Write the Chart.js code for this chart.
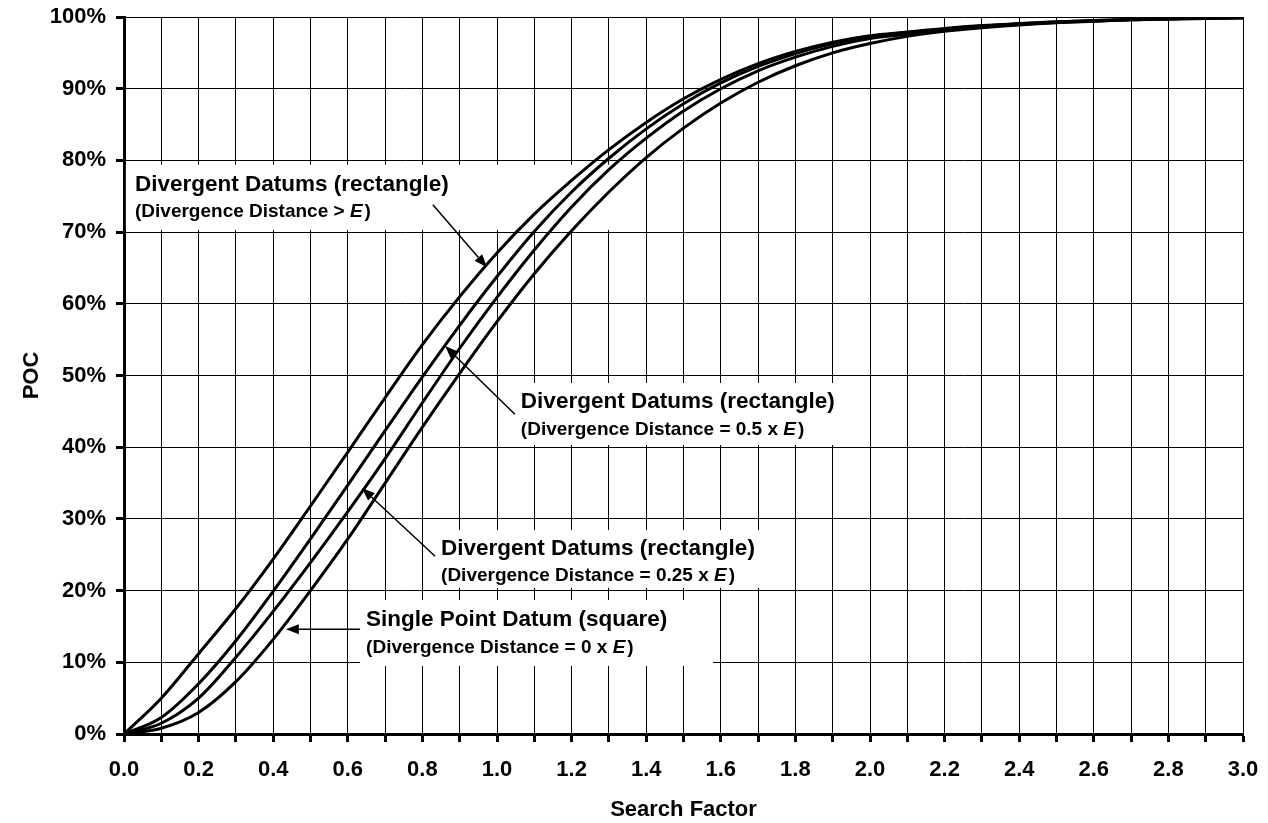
<!DOCTYPE html>
<html>
<head>
<meta charset="utf-8">
<title>POC vs Search Factor</title>
<script src="https://cdn.jsdelivr.net/npm/chart.js@4.4.0/dist/chart.umd.min.js"></script>
<style>
  body { margin: 0; background: #fff; }
</style>
</head>
<body>
<canvas id="poc" width="1268" height="823"></canvas>
<script>
// x values (search factor)
var searchFactor = [0.0, 0.1, 0.2, 0.3, 0.4, 0.5, 0.6, 0.7, 0.8, 0.9, 1.0,
                    1.1, 1.2, 1.3, 1.4, 1.5, 1.6, 1.7, 1.8, 1.9, 2.0,
                    2.1, 2.2, 2.3, 2.4, 2.5, 2.6, 2.7, 2.8, 2.9, 3.0];

// POC in percent
var pocDivergentFar = [0, 5.0, 11.2, 17.5, 24.4, 31.8, 39.3, 46.9, 54.3, 61.0, 67.1,
                       72.5, 77.2, 81.5, 85.3, 88.6, 91.3, 93.5, 95.2, 96.5, 97.4,
                       97.9, 98.4, 98.8, 99.1, 99.35, 99.5, 99.65, 99.75, 99.85, 99.9];
var pocDivergentHalf = [0, 2.3, 7.0, 13.0, 19.9, 27.2, 34.7, 42.3, 49.8, 57.0, 63.8,
                        70.1, 75.6, 80.3, 84.4, 87.9, 90.8, 93.1, 94.9, 96.3, 97.3,
                        97.8, 98.3, 98.75, 99.05, 99.3, 99.5, 99.65, 99.75, 99.85, 99.9];
var pocDivergentQuarter = [0, 1.5, 5.0, 10.7, 17.1, 23.9, 31.0, 38.4, 46.2, 53.8, 60.9,
                           67.5, 73.5, 78.7, 83.1, 86.9, 90.0, 92.5, 94.4, 95.9, 97.0,
                           97.6, 98.2, 98.65, 99.0, 99.25, 99.45, 99.6, 99.75, 99.8, 99.9];
var pocSinglePoint = [0, 0.8, 3.0, 7.3, 13.2, 20.0, 27.2, 35.0, 42.8, 50.3, 57.5,
                      64.2, 70.2, 75.6, 80.4, 84.5, 88.0, 90.9, 93.2, 95.0, 96.3,
                      97.3, 98.0, 98.5, 98.9, 99.2, 99.4, 99.6, 99.7, 99.8, 99.9];

// labelled ticks on the x axis (the 0.1 ticks in between get no text)
var xTickLabels = ['0.0', '0.2', '0.4', '0.6', '0.8', '1.0', '1.2', '1.4', '1.6',
                   '1.8', '2.0', '2.2', '2.4', '2.6', '2.8', '3.0'];

// callout texts
var noteTitles = ['Divergent Datums (rectangle)', 'Divergent Datums (rectangle)',
                  'Divergent Datums (rectangle)', 'Single Point Datum (square)'];
var noteSubs = ['(Divergence Distance > ', '(Divergence Distance = 0.5 x ',
                '(Divergence Distance = 0.25 x ', '(Divergence Distance = 0 x '];

// callout placement, in axis units (x = search factor, y = %)
var noteLayout = [
    {x0: 0.005, x1: 1.343, y0: 79.4, y1: 70.3, tx: 0.0295, ty: 75.7, sy: 72.1},
    {x0: 1.040, x1: 1.946, y0: 48.95, y1: 40.3, tx: 1.064, ty: 45.5, sy: 41.7},
    {x0: 0.820, x1: 1.718, y0: 28.45, y1: 20.4, tx: 0.850, ty: 25.0, sy: 21.3},
    {x0: 0.633, x1: 1.579, y0: 18.7, y1: 9.5, tx: 0.649, ty: 15.1, sy: 11.3}
];
var arrowLayout = [
    {x0: 0.828, y0: 73.8, x1: 0.973, y1: 65.1},
    {x0: 1.048, y0: 44.6, x1: 0.861, y1: 54.1},
    {x0: 0.834, y0: 24.8, x1: 0.638, y1: 34.3},
    {x0: 0.633, y0: 14.6, x1: 0.434, y1: 14.6}
];

var FONT = '"Liberation Sans", Arial, Helvetica, sans-serif';
Chart.defaults.font.family = FONT;
Chart.defaults.color = '#000';

function makeSeries(ys) {
    var pts = [];
    for (let i = 0; i < searchFactor.length; i++) {
        pts.push({x: searchFactor[i], y: ys[i]});
    }
    return pts;
}

function curve(ys) {
    return {
        data: makeSeries(ys),
        borderColor: '#000',
        borderWidth: 3,
        pointRadius: 0,
        cubicInterpolationMode: 'monotone',
        fill: false
    };
}

function drawArrow(ctx, x0, y0, x1, y1) {
    var ang = Math.atan2(y1 - y0, x1 - x0);
    var len = 13, half = 5;
    var bx = x1 - len * Math.cos(ang), by = y1 - len * Math.sin(ang);
    ctx.beginPath();
    ctx.moveTo(x0, y0);
    ctx.lineTo(bx, by);
    ctx.stroke();
    ctx.beginPath();
    ctx.moveTo(x1, y1);
    ctx.lineTo(bx + half * Math.sin(ang), by - half * Math.cos(ang));
    ctx.lineTo(bx - half * Math.sin(ang), by + half * Math.cos(ang));
    ctx.closePath();
    ctx.fill();
}

var calloutPlugin = {
    id: 'callouts',
    beforeDatasetsDraw: function(chart) {
        var ctx = chart.ctx, xs = chart.scales.x, ys = chart.scales.y;
        ctx.save();
        ctx.fillStyle = '#fff';
        noteLayout.forEach(function(b) {
            var l = xs.getPixelForValue(b.x0), r = xs.getPixelForValue(b.x1);
            var t = ys.getPixelForValue(b.y0), bt = ys.getPixelForValue(b.y1);
            ctx.fillRect(l, t, r - l, bt - t);
        });
        ctx.restore();
    },
    afterDatasetsDraw: function(chart) {
        var ctx = chart.ctx, xs = chart.scales.x, ys = chart.scales.y;
        ctx.save();
        ctx.fillStyle = '#000';
        ctx.strokeStyle = '#000';
        ctx.lineWidth = 1.5;
        arrowLayout.forEach(function(a) {
            drawArrow(ctx, xs.getPixelForValue(a.x0), ys.getPixelForValue(a.y0),
                      xs.getPixelForValue(a.x1), ys.getPixelForValue(a.y1));
        });

        ctx.textBaseline = 'alphabetic';
        ctx.textAlign = 'left';
        for (let i = 0; i < noteLayout.length; i++) {
            var n = noteLayout[i];
            var px = xs.getPixelForValue(n.tx);
            ctx.font = 'bold 22.5px ' + FONT;
            ctx.fillText(noteTitles[i], px, ys.getPixelForValue(n.ty));

            // subtitle, with an italic E
            var sy = ys.getPixelForValue(n.sy);
            ctx.font = 'bold 19px ' + FONT;
            ctx.fillText(noteSubs[i], px, sy);
            var w = ctx.measureText(noteSubs[i]).width;
            ctx.font = 'italic bold 19px ' + FONT;
            ctx.fillText('E', px + w, sy);
            w += ctx.measureText('E').width + 2;
            ctx.font = 'bold 19px ' + FONT;
            ctx.fillText(')', px + w, sy);
        }
        ctx.restore();
    }
};

var tickFont = {size: 22, weight: 'bold'};

new Chart(document.getElementById('poc'), {
    type: 'line',
    data: {
        datasets: [
            curve(pocDivergentFar),
            curve(pocDivergentHalf),
            curve(pocDivergentQuarter),
            curve(pocSinglePoint)
        ]
    },
    options: {
        responsive: false,
        animation: false,
        devicePixelRatio: 1,
        layout: {padding: {left: 0, top: 17, right: 25, bottom: 0}},
        plugins: {
            legend: {display: false},
            tooltip: {enabled: false}
        },
        scales: {
            x: {
                type: 'linear',
                min: 0,
                max: 3,
                afterFit: function(s) {
                    s.height = 89;
                    s.paddingLeft = 0;
                    s.paddingRight = 0;
                },
                ticks: {
                    stepSize: 0.1,
                    autoSkip: false,
                    maxRotation: 0,
                    padding: 15,
                    color: '#000',
                    font: tickFont,
                    callback: function(v) {
                        var t = Number(v).toFixed(1);
                        return xTickLabels.indexOf(t) >= 0 ? t : '';
                    }
                },
                grid: {color: '#000', lineWidth: 1, tickLength: 8, tickWidth: 3, tickColor: '#000'},
                border: {color: '#000', width: 3},
                title: {display: true, text: 'Search Factor', color: '#000', font: tickFont,
                        padding: {top: 0, bottom: 0}}
            },
            y: {
                min: 0,
                max: 100,
                afterFit: function(s) {
                    s.width = 124;
                    s.paddingTop = 0;
                    s.paddingBottom = 0;
                },
                ticks: {
                    stepSize: 10,
                    padding: 10,
                    color: '#000',
                    font: tickFont,
                    callback: function(v) { return v + '%'; }
                },
                grid: {color: '#000', lineWidth: 1, tickLength: 8, tickWidth: 3, tickColor: '#000'},
                border: {color: '#000', width: 3},
                title: {display: true, text: 'POC', color: '#000', font: tickFont,
                        padding: {top: 19, bottom: 0}}
            }
        }
    },
    plugins: [calloutPlugin]
});
</script>
</body>
</html>
